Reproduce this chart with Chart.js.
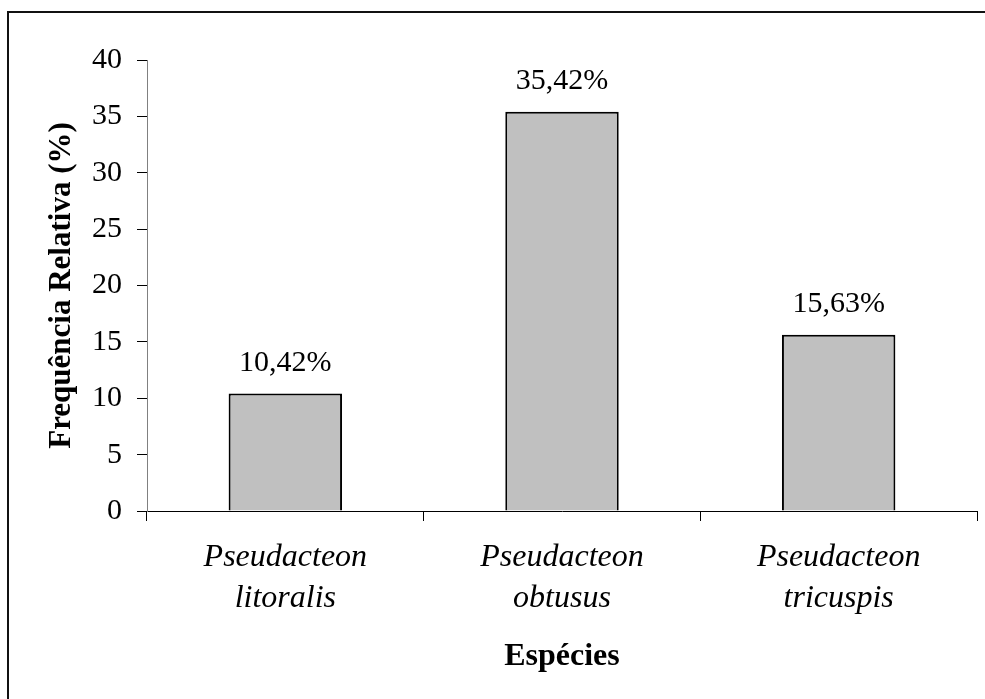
<!DOCTYPE html>
<html>
<head>
<meta charset="utf-8">
<script src="https://cdn.jsdelivr.net/npm/chart.js@4"></script>
<style>
  html, body { margin: 0; padding: 0; background: #fff; }
  #wrap { width: 985px; height: 699px; position: relative; }
</style>
</head>
<body>
<div id="wrap"><canvas id="chart"></canvas></div>
<script>
// dados
const especies = [['Pseudacteon', 'litoralis'], ['Pseudacteon', 'obtusus'], ['Pseudacteon', 'tricuspis']];
const frequencia = [10.42, 35.42, 15.63];
const yTicks = [0, 5, 10, 15, 20, 25, 30, 35, 40];

const serif = 'Liberation Serif, Times New Roman, serif';

// moldura externa (só topo e esquerda aparecem)
const frame = {
    id: 'frame',
    afterDraw(chart) {
        const c = chart.ctx;
        c.save();
        c.strokeStyle = '#111';
        c.lineWidth = 2;
        c.beginPath();
        c.moveTo(8, chart.height + 2);
        c.lineTo(8, 12);
        c.lineTo(chart.width + 2, 12);
        c.stroke();
        c.restore();
    }
};

// rótulos de valor acima das barras
const valueLabels = {
    id: 'valueLabels',
    afterDatasetsDraw(chart) {
        const c = chart.ctx;
        const meta = chart.getDatasetMeta(0);
        c.save();
        c.font = '30px ' + serif;
        c.fillStyle = '#000';
        c.textAlign = 'center';
        c.textBaseline = 'alphabetic';
        meta.data.forEach((bar, i) => {
            const txt = frequencia[i].toFixed(2).replace('.', ',') + '%';
            c.fillText(txt, bar.x, bar.y - 23);
        });
        c.restore();
    }
};

new Chart(document.getElementById('chart'), {
    type: 'bar',
    data: {
        labels: especies,
        datasets: [{
            data: frequencia,
            backgroundColor: '#c0c0c0',
            borderColor: '#000',
            borderWidth: 2,
            categoryPercentage: 1,
            barPercentage: 0.41
        }]
    },
    options: {
        responsive: true,
        maintainAspectRatio: false,
        animation: false,
        layout: { padding: { top: 60, right: 8, bottom: 0, left: 0 } },
        plugins: {
            legend: { display: false },
            tooltip: { enabled: false }
        },
        scales: {
            x: {
                grid: {
                    offset: true,
                    drawOnChartArea: false,
                    tickLength: 10,
                    tickColor: '#000',
                    tickWidth: 1
                },
                border: { color: '#000', width: 1 },
                ticks: {
                    color: '#000',
                    font: { family: serif, size: 32, style: 'italic', lineHeight: 1.28 },
                    padding: 16,
                    maxRotation: 0
                },
                title: {
                    display: true,
                    text: 'Espécies',
                    color: '#000',
                    font: { family: serif, size: 32, weight: 'bold' },
                    padding: { top: 0, bottom: 23 }
                },
                afterFit(scale) { scale.height = 188; }
            },
            y: {
                min: 0,
                max: 40,
                afterBuildTicks(scale) { scale.ticks = yTicks.map(v => ({ value: v })); },
                grid: {
                    drawOnChartArea: false,
                    tickLength: 10,
                    tickColor: '#000',
                    tickWidth: 1
                },
                border: { color: '#808080', width: 1 },
                ticks: {
                    color: '#000',
                    font: { family: serif, size: 30 },
                    padding: 15
                },
                title: {
                    display: true,
                    text: 'Frequência Relativa (%)',
                    color: '#000',
                    font: { family: serif, size: 31, weight: 'bold' },
                    padding: { top: 43, bottom: 0 }
                },
                afterFit(scale) { scale.width = 147; }
            }
        }
    },
    plugins: [frame, valueLabels]
});
</script>
</body>
</html>
